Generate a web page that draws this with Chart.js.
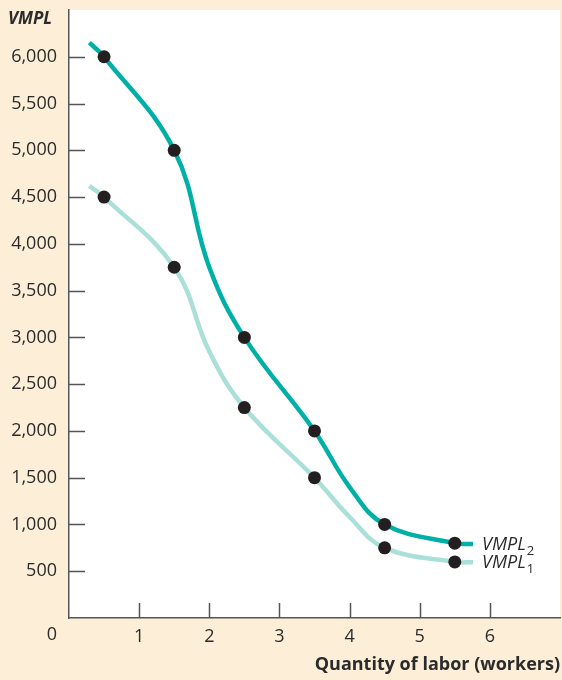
<!DOCTYPE html>
<html>
<head>
<meta charset="utf-8">
<script src="https://cdn.jsdelivr.net/npm/chart.js@4"></script>
<style>
  html, body { margin: 0; padding: 0; background: #fdeed8; }
  #wrap { width: 562px; height: 680px; position: relative; }
</style>
</head>
<body>
<div id="wrap"><canvas id="c" width="562" height="680"></canvas></div>
<script>
// Workers (x) for the marked points
const workers = [0.5, 1.5, 2.5, 3.5, 4.5, 5.5];
// Value of the marginal product of labor at each point
const vmpl2Points = [6000, 5000, 3000, 2000, 1000, 800];
const vmpl1Points = [4500, 3750, 2250, 1500, 750, 600];

// Traced course of each curve, including its ends
const curveX = [0.29, 0.5, 1.5, 2, 2.5, 3.5, 4, 4.5, 5.5, 5.76];
const vmpl2Curve = [6150, 6000, 5000, 3750, 3000, 2000, 1400, 1000, 800, 790];
const vmpl1Curve = [4620, 4500, 3750, 2850, 2250, 1500, 1080, 750, 600, 596];

// Axis ticks
const xTicks = [1, 2, 3, 4, 5, 6];
const yTicks = [500, 1000, 1500, 2000, 2500, 3000, 3500, 4000, 4500, 5000, 5500, 6000];

const DARK = '#00b0a6';
const LIGHT = '#abdfd9';
const INK = '#2b2b2b';
const FONT = '"Open Sans", "Noto Sans", sans-serif';

const pairs = (xs, ys) => xs.map((x, i) => ({ x, y: ys[i] }));

// Paper background, white plot field, inner tick marks and extra text
const decor = {
  id: 'decor',
  beforeDraw(chart) {
    const { ctx, chartArea: a } = chart;
    ctx.save();
    ctx.fillStyle = '#fdeed8';
    ctx.fillRect(0, 0, chart.width, chart.height);
    ctx.fillStyle = '#ffffff';
    ctx.fillRect(a.left, a.top, a.right - a.left, a.bottom - a.top);
    ctx.restore();
  },
  afterDraw(chart) {
    const { ctx, chartArea: a, scales } = chart;
    ctx.save();
    ctx.strokeStyle = '#555';
    ctx.lineWidth = 1.5;
    ctx.beginPath();
    yTicks.forEach(v => {
      const y = Math.round(scales.y.getPixelForValue(v)) + 0.5;
      ctx.moveTo(a.left, y); ctx.lineTo(a.left + 16, y);
    });
    xTicks.forEach(v => {
      const x = Math.round(scales.x.getPixelForValue(v)) + 0.5;
      ctx.moveTo(x, a.bottom); ctx.lineTo(x, a.bottom - 15);
    });
    ctx.stroke();

    ctx.fillStyle = INK;
    ctx.textBaseline = 'middle';
    // origin label
    ctx.font = '18px ' + FONT;
    ctx.textAlign = 'right';
    ctx.fillText('0', a.left - 12, scales.y.getPixelForValue(0) + 17);
    // y-axis name
    ctx.textAlign = 'left';
    ctx.textBaseline = 'alphabetic';
    ctx.font = 'italic bold 17px ' + FONT;
    ctx.fillText('VMPL', 8, 24);

    // curve names with subscripts
    const label = (sub, yVal) => {
      const x = scales.x.getPixelForValue(curveX[curveX.length - 1]) + 9;
      const y = scales.y.getPixelForValue(yVal) + 6;
      ctx.font = 'italic 18px ' + FONT;
      ctx.fillText('VMPL', x, y);
      const w = ctx.measureText('VMPL').width;
      ctx.font = '13px ' + FONT;
      ctx.fillText(sub, x + w + 1, y + 5);
    };
    label('2', vmpl2Curve[vmpl2Curve.length - 1]);
    label('1', vmpl1Curve[vmpl1Curve.length - 1]);
    ctx.restore();
  }
};

new Chart(document.getElementById('c'), {
  type: 'scatter',
  data: {
    datasets: [
      { data: pairs(curveX, vmpl1Curve), showLine: true, borderColor: LIGHT, borderWidth: 4.5,
        pointRadius: 0, tension: 0.4, order: 4 },
      { data: pairs(curveX, vmpl2Curve), showLine: true, borderColor: DARK, borderWidth: 4.5,
        pointRadius: 0, tension: 0.4, order: 3 },
      { data: pairs(workers, vmpl1Points), pointRadius: 6.5, pointBackgroundColor: '#231f20',
        pointBorderWidth: 0, order: 2 },
      { data: pairs(workers, vmpl2Points), pointRadius: 6.5, pointBackgroundColor: '#231f20',
        pointBorderWidth: 0, order: 1 }
    ]
  },
  options: {
    responsive: false,
    animation: false,
    layout: { autoPadding: false, padding: { top: 10, right: 2, left: 0, bottom: 4 } },
    plugins: { legend: { display: false }, tooltip: { enabled: false } },
    scales: {
      x: {
        type: 'linear', min: 0, max: 7,
        afterBuildTicks: s => { s.ticks = xTicks.map(v => ({ value: v })); },
        afterFit: s => { s.height = 58; s.paddingLeft = 0; s.paddingRight = 0; },
        grid: { drawOnChartArea: false, drawTicks: false },
        border: { color: '#555', width: 1.5 },
        ticks: { color: INK, padding: 8, font: { family: FONT, size: 18 } },
        title: { display: true, text: 'Quantity of labor (workers)', align: 'end', color: INK,
                 font: { family: FONT, size: 18, weight: 'bold' }, padding: { top: 2, bottom: 0 } }
      },
      y: {
        type: 'linear', min: 0, max: 6500,
        afterBuildTicks: s => { s.ticks = yTicks.map(v => ({ value: v })); },
        afterFit: s => { s.width = 69; s.paddingTop = 0; s.paddingBottom = 0; },
        grid: { drawOnChartArea: false, drawTicks: false },
        border: { color: '#555', width: 1.5 },
        ticks: { color: INK, padding: 12, font: { family: FONT, size: 18 },
                 callback: v => v.toLocaleString('en-US') }
      }
    }
  },
  plugins: [decor]
});
</script>
</body>
</html>
